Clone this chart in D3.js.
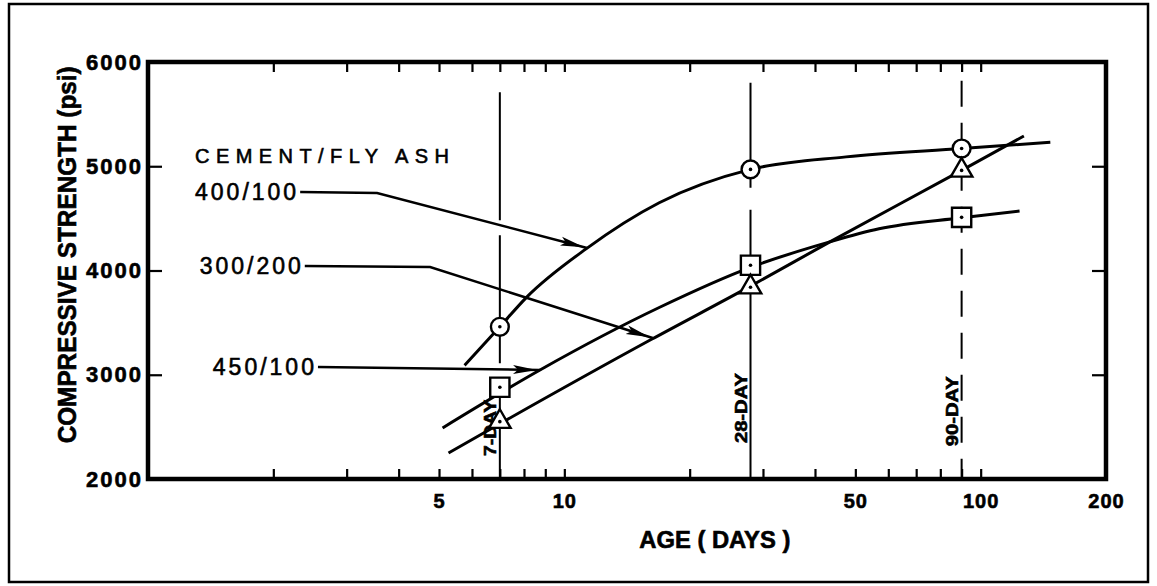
<!DOCTYPE html>
<html>
<head>
<meta charset="utf-8">
<script src="https://cdn.jsdelivr.net/npm/d3@7"></script>
<style>
  body { margin: 0; background: #fff; }
  svg { display: block; font-family: "Liberation Sans", Arial, Helvetica, sans-serif; }
  .tick line { stroke: #000; stroke-width: 2.2; }
  .heavy { stroke: #000; stroke-width: 0.6; }
</style>
</head>
<body>
<svg width="1157" height="586"></svg>
<script>
"use strict";

// test results, age in days / strength in psi
var testAges = [7, 28, 90];
var mix400 = [3460, 4970, 5170];   // circles
var mix450 = [2880, 4050, 4510];   // squares
var mix300 = [2550, 3840, 4960];   // triangles

// the drawn curves
var curve400Ages = [5.76, 7, 8.1, 11.3, 16.9, 28, 47.5, 90, 147];
var curve400Vals = [3090, 3460, 3740, 4210, 4650, 4970, 5090, 5170, 5230];
var curve450Ages = [5.1, 8.74, 16.9, 28, 43, 57, 90, 124];
var curve450Vals = [2490, 3046, 3645, 4030, 4270, 4400, 4505, 4570];
var curve300Ages = [5.27, 7, 16.2, 28, 43, 90, 127];
var curve300Vals = [2250, 2530, 3340, 3850, 4265, 4960, 5290];

var xTicks = [2, 3, 4, 5, 6, 7, 8, 9, 10, 20, 30, 40, 50, 60, 70, 80, 90, 100];
var xLabels = [5, 10, 50, 100, 200];
var yTicks = [3000, 4000, 5000];
var yLabels = [2000, 3000, 4000, 5000, 6000];

var dayNames = ["7-DAY", "28-DAY", "90-DAY"];
var dayLineTop = [5710, 5800, 5820];
var dayLabelAt = [2490, 2680, 2650];

var mixNames = ["400/100", "300/200", "450/100"];
// leaders: label end, elbow, arrow tip (age, psi)
var leader400 = [[2.32, 4753], [3.55, 4743], [11.34, 4216]];
var leader300 = [[2.38, 4043], [4.76, 4034], [16.3, 3352]];
var leader450 = [[2.56, 3074], [8.74, 3046]];

var svg = d3.select("svg"),
    width = +svg.attr("width"),
    height = +svg.attr("height"),
    margin = {top: 62, right: 51, bottom: 107, left: 148};

var x = d3.scaleLog().domain([1, 200]).range([margin.left, width - margin.right]);
var y = d3.scaleLinear().domain([2000, 6000]).range([height - margin.bottom, margin.top]);

var x0 = x.range()[0], x1 = x.range()[1],
    yBot = y.range()[0], yTop = y.range()[1];

// outer border of the figure
svg.append("rect")
    .attr("x", 9).attr("y", 4)
    .attr("width", 1139).attr("height", 578)
    .attr("fill", "none").attr("stroke", "#000").attr("stroke-width", 2.5);

var noDomain = function(g) { g.select(".domain").remove(); };

// inward ticks on all four sides
svg.append("g").attr("transform", "translate(0," + yBot + ")")
    .call(d3.axisBottom(x).tickValues(xTicks).tickSize(-10).tickFormat(""))
    .call(noDomain);
svg.append("g").attr("transform", "translate(0," + yTop + ")")
    .call(d3.axisTop(x).tickValues(xTicks).tickSize(-10).tickFormat(""))
    .call(noDomain);
svg.append("g").attr("transform", "translate(" + x0 + ",0)")
    .call(d3.axisLeft(y).tickValues(yTicks).tickSize(-14).tickFormat(""))
    .call(noDomain);
svg.append("g").attr("transform", "translate(" + x1 + ",0)")
    .call(d3.axisRight(y).tickValues(yTicks).tickSize(-14).tickFormat(""))
    .call(noDomain);

// tick labels
var xl = svg.append("g").attr("transform", "translate(0," + yBot + ")")
    .call(d3.axisBottom(x).tickValues(xLabels).tickSize(0).tickPadding(15).tickFormat(d3.format("d")))
    .call(noDomain);
xl.selectAll("text")
    .attr("fill", "#000").attr("class", "heavy")
    .style("font-size", "20px").style("font-weight", "bold").style("letter-spacing", "1px")
    .style("font-family", "'Liberation Sans', Arial, sans-serif");

var yl = svg.append("g").attr("transform", "translate(" + x0 + ",0)")
    .call(d3.axisLeft(y).tickValues(yLabels).tickSize(0).tickPadding(5).tickFormat(d3.format("d")))
    .call(noDomain);
yl.selectAll("text")
    .attr("fill", "#000").attr("class", "heavy")
    .style("font-size", "22px").style("font-weight", "bold").style("letter-spacing", "2px")
    .style("font-family", "'Liberation Sans', Arial, sans-serif");

// plot frame
svg.append("rect")
    .attr("x", x0).attr("y", yTop)
    .attr("width", x1 - x0).attr("height", yBot - yTop)
    .attr("fill", "none").attr("stroke", "#000").attr("stroke-width", 4.5);

// axis titles
svg.append("text")
    .attr("class", "heavy")
    .attr("x", (x(10) + x(50)) / 2 + 5).attr("y", 548)
    .attr("text-anchor", "middle")
    .attr("textLength", 151).attr("lengthAdjust", "spacingAndGlyphs")
    .style("font-size", "23px").style("font-weight", "bold")
    .text("AGE ( DAYS )");

svg.append("text")
    .attr("class", "heavy")
    .attr("transform", "translate(76," + y(4150) + ") rotate(-90)")
    .attr("text-anchor", "middle")
    .attr("textLength", 377).attr("lengthAdjust", "spacingAndGlyphs")
    .style("font-size", "25px").style("font-weight", "bold")
    .text("COMPRESSIVE  STRENGTH (psi)");

// 7, 28 and 90 day reference lines
var dashes = ["128,15", "105,22,600,0", "26,16"];
var days = svg.append("g");
testAges.forEach(function(a, i) {
    days.append("line")
        .attr("x1", x(a)).attr("x2", x(a))
        .attr("y1", y(dayLineTop[i])).attr("y2", yBot)
        .attr("stroke", "#000").attr("stroke-width", 2)
        .attr("stroke-dasharray", dashes[i]);
    days.append("text")
        .attr("class", "heavy")
        .attr("transform", "translate(" + (x(a) - 4) + "," + y(dayLabelAt[i]) + ") rotate(-90)")
        .attr("text-anchor", "middle")
        .attr("textLength", i === 0 ? 56 : 70).attr("lengthAdjust", "spacingAndGlyphs")
        .style("font-size", "16px").style("font-weight", "bold")
        .text(dayNames[i]);
});

// curves
var line = d3.line()
    .x(function(d) { return x(d[0]); })
    .y(function(d) { return y(d[1]); })
    .curve(d3.curveMonotoneX);

var curves = [d3.zip(curve400Ages, curve400Vals),
              d3.zip(curve450Ages, curve450Vals),
              d3.zip(curve300Ages, curve300Vals)];

svg.append("g").selectAll("path")
    .data(curves)
    .enter().append("path")
    .attr("d", line)
    .attr("fill", "none").attr("stroke", "#000").attr("stroke-width", 3);

// leader arrows
svg.append("defs").append("marker")
    .attr("id", "arrow")
    .attr("viewBox", "0 0 24 10")
    .attr("refX", 27).attr("refY", 5)
    .attr("markerWidth", 24).attr("markerHeight", 10)
    .attr("markerUnits", "userSpaceOnUse")
    .attr("orient", "auto")
  .append("path")
    .attr("d", "M0,0.5 L24,5 L0,9.5 L5,5 Z")
    .attr("fill", "#000");

var leaders = [leader400, leader300, leader450];
var straight = d3.line()
    .x(function(d) { return x(d[0]); })
    .y(function(d) { return y(d[1]); });

var leaderG = svg.append("g");
leaderG.selectAll("path")
    .data(leaders)
    .enter().append("path")
    .attr("d", straight)
    .attr("fill", "none").attr("stroke", "#000").attr("stroke-width", 2.5)
    .attr("marker-end", "url(#arrow)");

var mixLabels = leaderG.selectAll("text.mix")
    .data(leaders)
    .enter().append("text")
    .attr("class", "mix heavy")
    .attr("x", function(d) { return x(d[0][0]) - 1; })
    .attr("y", function(d) { return y(d[0][1]) + 8; })
    .attr("text-anchor", "end")
    .style("font-size", "23px").style("letter-spacing", "3px")
    .text(function(d, i) { return mixNames[i]; });

var box400 = mixLabels.nodes()[0].getBBox();
svg.append("text")
    .attr("class", "heavy")
    .attr("x", box400.x).attr("y", box400.y - 16)
    .attr("textLength", 254).attr("lengthAdjust", "spacing")
    .style("font-size", "20px")
    .text("CEMENT/FLY ASH");

// data points
var series = [
    {vals: mix400, type: d3.symbolCircle, size: 250},
    {vals: mix450, type: d3.symbolSquare, size: 370},
    {vals: mix300, type: d3.symbolTriangle, size: 200}
];

var pts = svg.append("g");
series.forEach(function(s) {
    var g = pts.selectAll(null)
        .data(d3.zip(testAges, s.vals))
        .enter().append("g")
        .attr("transform", function(d) { return "translate(" + x(d[0]) + "," + y(d[1]) + ")"; });
    g.append("path")
        .attr("d", d3.symbol().type(s.type).size(s.size))
        .attr("fill", "#fff").attr("stroke", "#000").attr("stroke-width", 2.4);
    g.append("circle").attr("r", 1.8).attr("fill", "#000");
});
</script>
</body>
</html>
